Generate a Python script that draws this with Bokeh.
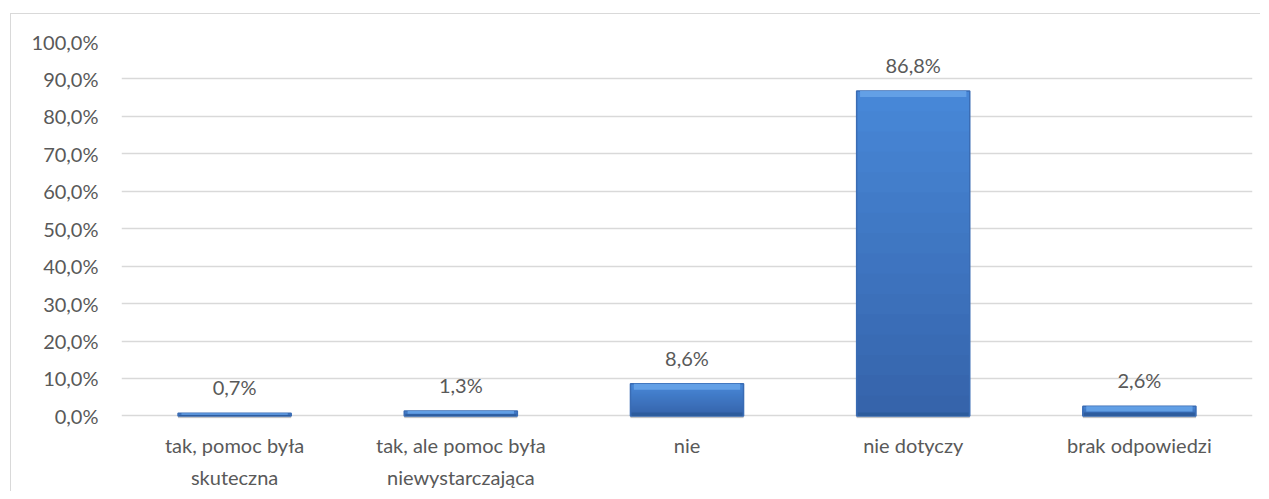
from bokeh.plotting import figure
from bokeh.models import FactorRange, Range1d, FixedTicker, ColumnDataSource
from bokeh.core.properties import value
from bokeh.embed import file_html
from bokeh.resources import INLINE

categories = ["tak, pomoc była\nskuteczna", "tak, ale pomoc była\nniewystarczająca", "nie", "nie dotyczy", "brak odpowiedzi"]
values = [0.7, 1.3, 8.6, 86.8, 2.6]
value_labels = ["0,7%", "1,3%", "8,6%", "86,8%", "2,6%"]
tick_values = [0, 10, 20, 30, 40, 50, 60, 70, 80, 90, 100]
tick_labels = ["0,0%", "10,0%", "20,0%", "30,0%", "40,0%", "50,0%", "60,0%", "70,0%", "80,0%", "90,0%", "100,0%"]

FONT = "Lato"
TXT = "#595959"

p = figure(x_range=FactorRange(*categories, range_padding=0), y_range=Range1d(-0.7, 100),
           frame_width=1131, frame_height=377, output_backend="svg", toolbar_location=None,
           min_border_left=110, min_border_right=8, min_border_top=27, min_border_bottom=60)
p.margin = (13, 0, 0, 10)
p.styles = {"border-left": "1px solid #d9d9d9", "border-top": "1px solid #d9d9d9"}
p.outline_line_color = None
p.background_fill_color = "white"
p.border_fill_color = "white"

# shadow under bars
p.vbar(x=categories, bottom=-0.6, top=0, width=0.5, fill_color="#c4c4c4", line_color=None)

def mix(c1, c2, t):
    a = [int(c1[i:i+2], 16) for i in (1, 3, 5)]
    b = [int(c2[i:i+2], 16) for i in (1, 3, 5)]
    return "#%02x%02x%02x" % tuple(int(round(a[k] + (b[k] - a[k]) * t)) for k in range(3))

# vertical gradient: overlapping layers, tallest (lightest top) first
N = 16
for i in reversed(range(N)):
    f1 = (i + 1) / N
    col = mix("#3563aa", "#4888d8", (i + 0.5) / N)
    p.vbar(x=categories, bottom=0, top=[v * f1 for v in values],
           width=0.5, fill_color=col, line_color=None)

# outline and bevels
p.vbar(x=categories, bottom=0, top=values, width=0.5, fill_color=None, line_color="#3a6cb4", line_width=1.5)
p.vbar(x=categories, bottom=[max(v - 1.6, v * 0.45) for v in values], top=values, width=0.47,
       fill_color="#66a3e8", line_color=None, fill_alpha=0.9)
p.vbar(x=categories, bottom=0, top=[min(0.9, v * 0.35) for v in values], width=0.49,
       fill_color="#2c5a98", line_color=None, fill_alpha=0.8)

src = ColumnDataSource(dict(x=categories, y=values, t=value_labels))
p.text(x="x", y="y", text="t", source=src, text_align="center", text_baseline="alphabetic",
       y_offset=-26, text_font=value(FONT), text_font_size="20px", text_color=TXT)

p.ygrid.ticker = FixedTicker(ticks=tick_values)
p.ygrid.grid_line_color = "#d9d9d9"
p.ygrid.grid_line_width = 1.5
p.xgrid.grid_line_color = None

p.yaxis.ticker = FixedTicker(ticks=tick_values)
p.yaxis.major_label_overrides = {t: l for t, l in zip(tick_values, tick_labels)}
p.yaxis.axis_line_color = None
p.yaxis.major_tick_line_color = None
p.yaxis.minor_tick_line_color = None
p.yaxis.major_label_standoff = 17
p.yaxis.major_label_text_font = FONT
p.yaxis.major_label_text_font_size = "20px"
p.yaxis.major_label_text_color = TXT

p.xaxis.axis_line_color = None
p.xaxis.major_tick_line_color = None
p.xaxis.major_label_standoff = 8
p.xaxis.major_label_text_font = FONT
p.xaxis.major_label_text_font_size = "20px"
p.xaxis.major_label_text_color = TXT
p.xaxis.major_label_text_line_height = 1.35

open("out.html", "w").write(file_html(p, INLINE))
